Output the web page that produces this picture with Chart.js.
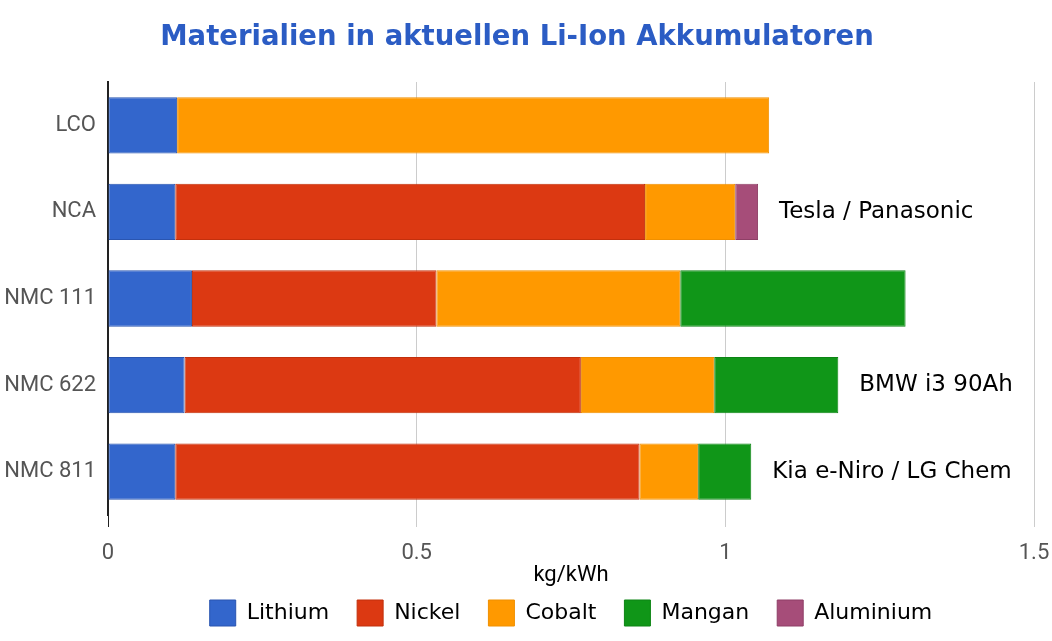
<!DOCTYPE html>
<html lang="de">
<head>
    <meta charset="UTF-8">
    <title>Materialien in aktuellen Li-Ion Akkumulatoren</title>
    <script src="https://cdn.jsdelivr.net/npm/chart.js"></script>
    <style>
        html, body {
            margin: 0;
            padding: 0;
            background: #fff;
        }
        canvas {
            display: block;
        }
    </style>
</head>
<body>
    <canvas id="chart" width="1052" height="641"></canvas>
    <script>
    // Werte in kg/kWh
    const cells = ['LCO', 'NCA', 'NMC 111', 'NMC 622', 'NMC 811'];
    const lithium   = [0.112, 0.109, 0.136, 0.124, 0.109];
    const nickel    = [0,     0.761, 0.396, 0.642, 0.752];
    const cobalt    = [0.959, 0.146, 0.395, 0.216, 0.095];
    const mangan    = [0,     0,     0.365, 0.201, 0.086];
    const aluminium = [0,     0.037, 0,     0,     0];
    const xTicks = [0, 0.5, 1, 1.5];
    // Beschriftungen rechts neben den Balken
    const noteCells = ['NCA', 'NMC 622', 'NMC 811'];
    const noteTexts = ['Tesla / Panasonic', 'BMW i3 90Ah', 'Kia e-Niro / LG Chem'];

    const series = [
        { label: 'Lithium',   data: lithium,   color: '#3366cc', edge: '#2a55b0' },
        { label: 'Nickel',    data: nickel,    color: '#dc3912', edge: '#c2300d' },
        { label: 'Cobalt',    data: cobalt,    color: '#ff9900', edge: '#f09000' },
        { label: 'Mangan',    data: mangan,    color: '#109618', edge: '#0d8414' },
        { label: 'Aluminium', data: aluminium, color: '#a64d79', edge: '#8e3f66' }
    ];

    const notesPlugin = {
        id: 'notes',
        afterDatasetsDraw(chart) {
            const ctx = chart.ctx;
            const x = chart.scales.x;
            const y = chart.scales.y;
            ctx.save();
            ctx.font = '23px "DejaVu Sans"';
            ctx.fillStyle = '#000';
            ctx.textAlign = 'left';
            ctx.textBaseline = 'middle';
            noteCells.forEach((cell, i) => {
                const idx = cells.indexOf(cell);
                let total = 0;
                series.forEach(s => { total += s.data[idx]; });
                ctx.fillText(noteTexts[i], x.getPixelForValue(total) + 21, y.getPixelForValue(idx));
            });
            ctx.restore();
        }
    };

    const ctx = document.getElementById('chart').getContext('2d');
    new Chart(ctx, {
        type: 'bar',
        data: {
            labels: cells,
            datasets: series.map(s => ({
                label: s.label,
                data: s.data,
                backgroundColor: s.color,
                borderColor: s.edge,
                borderWidth: 1,
                borderSkipped: false,
                barPercentage: 0.65,
                categoryPercentage: 1
            }))
        },
        options: {
            indexAxis: 'y',
            responsive: false,
            animation: false,
            devicePixelRatio: 1,
            layout: {
                padding: { left: 0, right: 18, top: 0, bottom: 5 }
            },
            scales: {
                x: {
                    stacked: true,
                    min: 0,
                    max: 1.5,
                    afterBuildTicks: scale => {
                        scale.ticks = xTicks.map(v => ({ value: v }));
                    },
                    grid: {
                        color: '#cccccc',
                        lineWidth: 1,
                        drawTicks: true,
                        tickLength: 12,
                        tickColor: c => (c.tick && c.tick.value === 0 ? '#222' : '#cccccc')
                    },
                    border: { display: false },
                    ticks: {
                        color: '#555',
                        padding: 15,
                        font: { family: 'Roboto', size: 22, lineHeight: 1 },
                        callback: v => String(v)
                    },
                    title: {
                        display: true,
                        text: 'kg/kWh',
                        color: '#000',
                        font: { family: 'Roboto', size: 22, lineHeight: 1 },
                        padding: { top: 1, bottom: -14 }
                    },
                    afterFit: scale => {
                        scale.height = 57;
                        scale.paddingLeft = 0;
                        scale.paddingRight = 0;
                    }
                },
                y: {
                    stacked: true,
                    grid: { display: false, drawTicks: false },
                    border: { display: true, color: '#222', width: 2 },
                    ticks: {
                        color: '#555',
                        padding: 12,
                        font: { family: 'Roboto', size: 22 }
                    },
                    afterFit: scale => { scale.width = 108; }
                }
            },
            plugins: {
                title: {
                    display: true,
                    text: 'Materialien in aktuellen Li-Ion Akkumulatoren',
                    color: '#2b5cc4',
                    font: { family: 'DejaVu Sans', size: 27.5, weight: 'bold', lineHeight: 1.2 },
                    padding: { top: 21, bottom: 28 }
                },
                legend: {
                    position: 'bottom',
                    fullSize: false,
                    labels: {
                        color: '#000',
                        boxWidth: 26,
                        boxHeight: 26,
                        padding: 28,
                        font: { family: 'DejaVu Sans', size: 22 }
                    }
                },
                tooltip: { enabled: false }
            }
        },
        plugins: [notesPlugin]
    });
    </script>
</body>
</html>
